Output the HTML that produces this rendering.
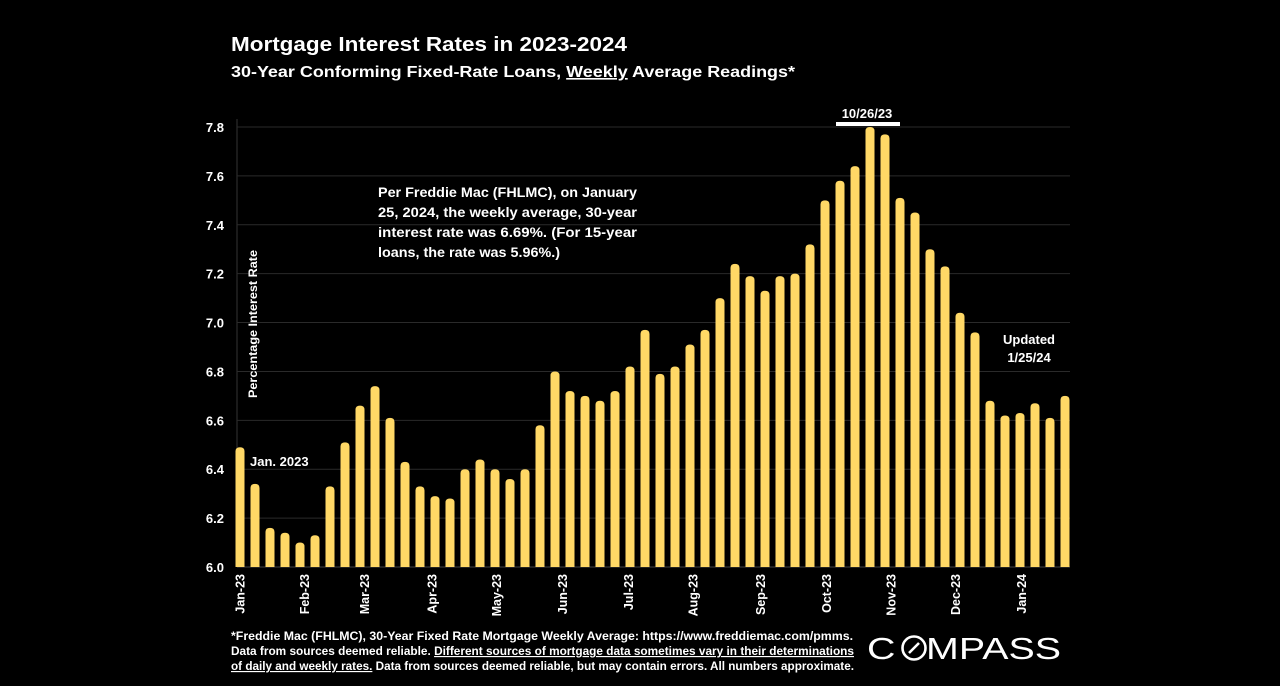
<!DOCTYPE html>
<html><head><meta charset="utf-8"><style>
html,body{margin:0;padding:0;background:#000;}
svg{display:block;font-family:"Liberation Sans",sans-serif;}
</style></head><body>
<svg id="chart" width="1280" height="686" viewBox="0 0 1280 686" xmlns="http://www.w3.org/2000/svg">
<rect width="1280" height="686" fill="#000"/>
<text x="231" y="51" fill="#fff" font-size="20" font-weight="bold" textLength="396" lengthAdjust="spacingAndGlyphs">Mortgage Interest Rates in 2023-2024</text>
<text x="231" y="77" fill="#fff" font-size="16" font-weight="bold" textLength="564" lengthAdjust="spacingAndGlyphs">30-Year Conforming Fixed-Rate Loans, <tspan text-decoration="underline">Weekly</tspan> Average Readings*</text>
<g id="grid"></g>
<g id="yticks"></g>
<g id="bars"></g>
<g id="xticks"></g>
<text transform="translate(257,398) rotate(-90)" fill="#fff" font-size="12" font-weight="bold" textLength="148" lengthAdjust="spacingAndGlyphs">Percentage Interest  Rate</text>
<text x="250" y="466" fill="#fff" font-size="13" font-weight="bold">Jan. 2023</text>
<g fill="#fff" font-size="14" font-weight="bold">
<text x="378" y="197" textLength="259" lengthAdjust="spacingAndGlyphs">Per Freddie Mac (FHLMC), on January</text>
<text x="378" y="217" textLength="259" lengthAdjust="spacingAndGlyphs">25, 2024, the weekly average, 30-year</text>
<text x="378" y="237" textLength="259" lengthAdjust="spacingAndGlyphs">interest rate was 6.69%. (For 15-year</text>
<text x="378" y="257" textLength="182" lengthAdjust="spacingAndGlyphs">loans, the rate was 5.96%.)</text>
</g>
<text x="867" y="118" fill="#fff" font-size="13" font-weight="bold" text-anchor="middle">10/26/23</text>
<rect x="836" y="122" width="64" height="4" fill="#fff"/>
<text x="1029" y="344" fill="#fff" font-size="13" font-weight="bold" text-anchor="middle">Updated</text>
<text x="1029" y="362" fill="#fff" font-size="13" font-weight="bold" text-anchor="middle">1/25/24</text>
<g fill="#fff" font-size="11.5" font-weight="bold">
<text x="231" y="640" textLength="622" lengthAdjust="spacingAndGlyphs">*Freddie Mac (FHLMC), 30-Year Fixed Rate Mortgage Weekly Average:  https://www.freddiemac.com/pmms.</text>
<text x="231" y="655" textLength="623" lengthAdjust="spacingAndGlyphs">Data from sources deemed reliable. <tspan text-decoration="underline">Different sources of mortgage data sometimes vary in their determinations</tspan></text>
<text x="231" y="670" textLength="623" lengthAdjust="spacingAndGlyphs"><tspan text-decoration="underline">of daily and weekly rates.</tspan> Data from sources deemed reliable, but may contain errors. All numbers approximate.</text>
</g>
<g>
<text x="867" y="659" fill="#fff" font-size="31" textLength="194" lengthAdjust="spacingAndGlyphs">C<tspan fill="#000">O</tspan>MPASS</text>
<circle cx="914" cy="648" r="11.5" fill="none" stroke="#fff" stroke-width="2.6"/>
<line x1="909" y1="653" x2="919" y2="643" stroke="#fff" stroke-width="2.6"/>
</g>
</svg>
<script>
const rates = [6.49,6.34,6.16,6.14,6.10,6.13,6.33,6.51,6.66,6.74,6.61,6.43,6.33,6.29,6.28,6.40,6.44,6.40,6.36,6.40,6.58,6.80,6.72,6.70,6.68,6.72,6.82,6.97,6.79,6.82,6.91,6.97,7.10,7.24,7.19,7.13,7.19,7.20,7.32,7.50,7.58,7.64,7.80,7.77,7.51,7.45,7.30,7.23,7.04,6.96,6.68,6.62,6.63,6.67,6.61,6.70];
const yTicks = [6.0,6.2,6.4,6.6,6.8,7.0,7.2,7.4,7.6,7.8];
const monthLabels = ["Jan-23","Feb-23","Mar-23","Apr-23","May-23","Jun-23","Jul-23","Aug-23","Sep-23","Oct-23","Nov-23","Dec-23","Jan-24"];
const monthIndex = [0,4.3,8.3,12.8,17.1,21.5,25.9,30.2,34.7,39.1,43.4,47.7,52.1];
const NS="http://www.w3.org/2000/svg";
const x0=240, step=(1065-240)/55, yBase=567, pxPerUnit=(567-127)/1.8;
function xs(i){return x0+i*step;}
function ys(v){return yBase-(v-6.0)*pxPerUnit;}
function mk(tag,attrs,parent){const e=document.createElementNS(NS,tag);for(const k in attrs)e.setAttribute(k,attrs[k]);parent.appendChild(e);return e;}
const grid=document.getElementById('grid'),yt=document.getElementById('yticks'),bars=document.getElementById('bars'),xt=document.getElementById('xticks');
mk('line',{x1:237,y1:ys(7.8)-8,x2:237,y2:yBase,stroke:'#333','stroke-width':1},grid);
yTicks.forEach(t=>{
  const l=mk('line',{x1:237,y1:ys(t),x2:1070,y2:ys(t),stroke:t===6.0?'#444':'#2a2a2a','stroke-width':1},grid);
  
  
  const tx=mk('text',{x:224,y:ys(t)+5,fill:'#fff','font-size':13,'font-weight':'bold','text-anchor':'end'},yt);
  tx.textContent=t.toFixed(1);
  
  
});
rates.forEach((v,i)=>{
  const w=9,x=xs(i)-w/2,y=Math.max(ys(v),127);
  const p=mk('path',{d:`M${x},${yBase}V${y+4}Q${x},${y} ${x+w/2},${y}Q${x+w},${y} ${x+w},${y+4}V${yBase}Z`,fill:'#ffd866'},bars);
  
  
});
monthLabels.forEach((m,i)=>{
  const x=xs(monthIndex[i]);
  const t=mk('text',{transform:`translate(${x+4.5},574) rotate(-90)`,fill:'#fff','font-size':12.5,'font-weight':'bold','text-anchor':'end'},xt);
  t.textContent=m;
  
  
});
</script>
</body></html>
